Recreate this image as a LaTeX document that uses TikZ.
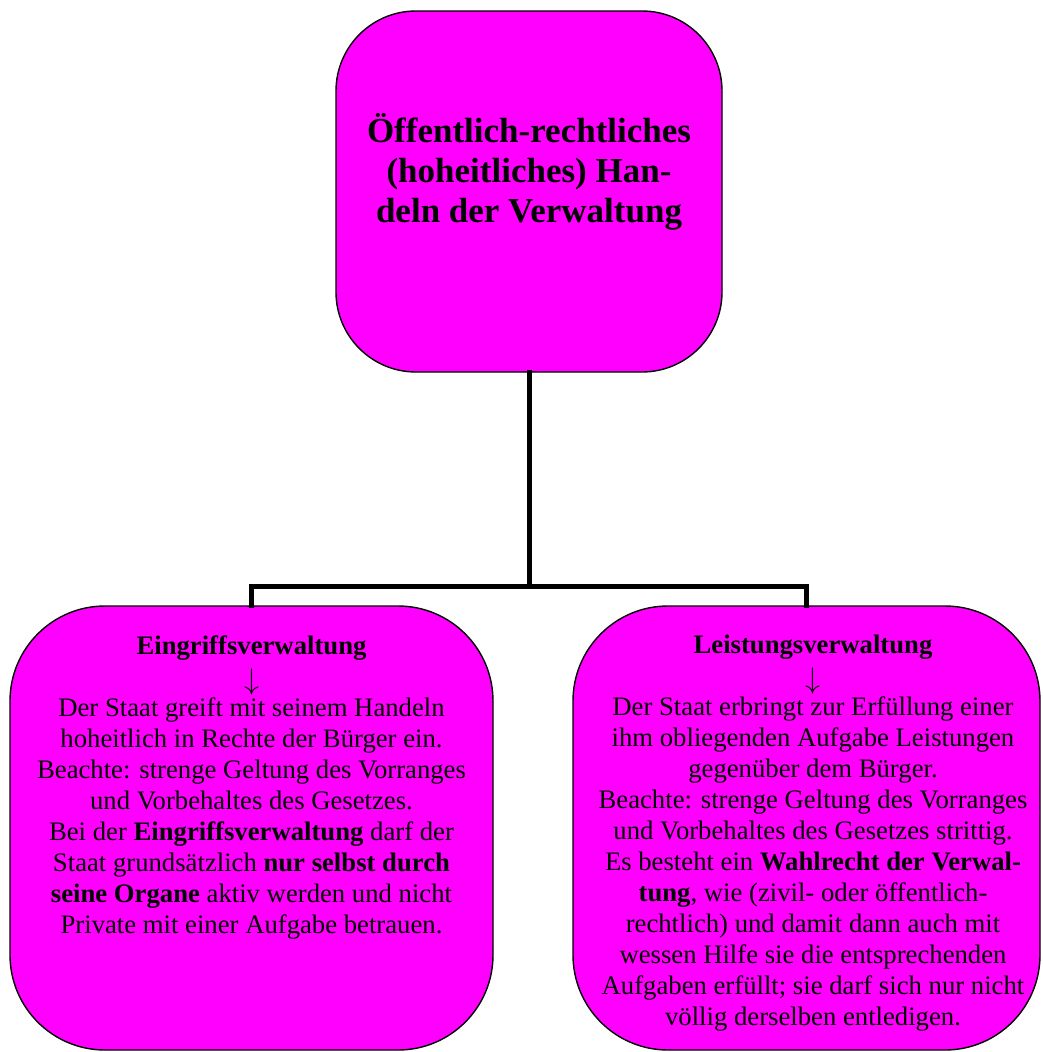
\documentclass[tikz,border=0pt]{standalone}
\usepackage{fontspec}
\setmainfont{Liberation Serif}
\definecolor{boxfill}{RGB}{255,0,255}
\newcommand{\downmark}{\smash{\raisebox{-4pt}{\scalebox{1.2}{$\downarrow$}}}}
\begin{document}
\begin{tikzpicture}[x=1pt,y=-1pt,
  box/.style={draw=black, line width=1.4pt, fill=boxfill, rectangle, inner sep=0pt},
  conn/.style={draw=black, line width=5pt, line join=miter, line cap=rect},
  headtext/.style={align=center, inner sep=0pt, anchor=north, font=\fontsize{35}{40}\selectfont\bfseries},
  bodytext/.style={align=center, inner sep=0pt, anchor=north, font=\fontsize{26.7}{31}\selectfont}]
  % page frame
  \useasboundingbox (0,0) rectangle (1042,1052);

  % boxes
  \node[box, rounded corners=80pt, minimum width=386pt, minimum height=361pt] (top) at (529,191.5) {};
  \node[box, rounded corners=95pt, minimum width=483pt, minimum height=444pt] (left) at (251.5,828) {};
  \node[box, rounded corners=95pt, minimum width=467pt, minimum height=444pt] (right) at (806.5,828) {};

  % connectors
  \coordinate (j) at (529,586);
  \draw[conn] (top.south) -- (j);
  \draw[conn] (left.north) |- (j) -| (right.north);

  % texts
  \node[headtext] (toptext) at (529,113)
    {Öffentlich-rechtliches\\(hoheitliches) Han-\\deln der Verwaltung};
  \node[bodytext] (lefttext) at (251.5,635)
    {\textbf{Eingriffsverwaltung}\\\downmark\\
     Der Staat greift mit seinem Handeln\\
     hoheitlich in Rechte der Bürger ein.\\
     Beachte: strenge Geltung des Vorranges\\
     und Vorbehaltes des Gesetzes.\\
     Bei der \textbf{Eingriffsverwaltung} darf der\\
     Staat grundsätzlich \textbf{nur selbst durch}\\
     \textbf{seine Organe} aktiv werden und nicht\\
     Private mit einer Aufgabe betrauen.};
  \node[bodytext] (righttext) at (813,635)
    {\textbf{Leistungsverwaltung}\\\downmark\\
     Der Staat erbringt zur Erfüllung einer\\
     ihm obliegenden Aufgabe Leistungen\\
     gegenüber dem Bürger.\\
     Beachte: strenge Geltung des Vorranges\\
     und Vorbehaltes des Gesetzes strittig.\\
     Es besteht ein \textbf{Wahlrecht der Verwal-}\\
     \textbf{tung}, wie (zivil- oder öffentlich-\\
     rechtlich) und damit dann auch mit\\
     wessen Hilfe sie die entsprechenden\\
     Aufgaben erfüllt; sie darf sich nur nicht\\
     völlig derselben entledigen.};
\end{tikzpicture}
\end{document}
